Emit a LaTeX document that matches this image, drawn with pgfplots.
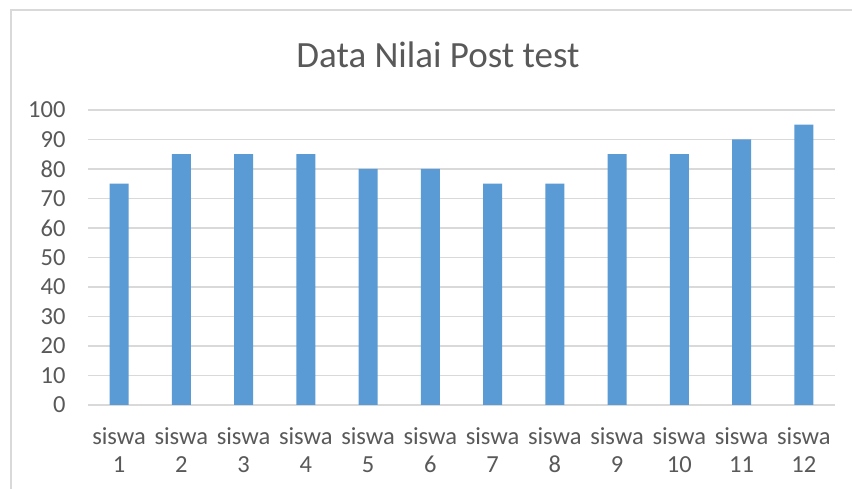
\documentclass[border=0pt]{standalone}
\usepackage{pgfplots}
\pgfplotsset{compat=1.18}
\usepackage{fontspec}
\setmainfont{Carlito}
\definecolor{barblue}{HTML}{5B9BD5}
\definecolor{txtgray}{HTML}{595959}
\definecolor{gridgray}{HTML}{D9D9D9}
\begin{document}
\begin{tikzpicture}
\useasboundingbox[fill=white] (0pt,0pt) rectangle (852pt,489pt);
\draw[gridgray, line width=1.5pt] (11pt,-10pt) -- (11pt,479pt) -- (870pt,479pt);
\node[txtgray, font=\fontsize{37}{42}\selectfont] at (438pt,434pt) {Data Nilai Post test};
\begin{axis}[
  at={(88pt,84pt)}, anchor=south west,
  scale only axis, width=747pt, height=295pt,
  xmin=0.5, xmax=12.5, ymin=0, ymax=100,
  ytick={0,10,...,100},
  xtick={1,...,12},
  xticklabels={{siswa\\1},{siswa\\2},{siswa\\3},{siswa\\4},{siswa\\5},{siswa\\6},{siswa\\7},{siswa\\8},{siswa\\9},{siswa\\10},{siswa\\11},{siswa\\12}},
  xticklabel style={align=center, font=\fontsize{24.5}{28}\selectfont, text=txtgray, yshift=-19pt},
  yticklabel style={font=\fontsize{24.5}{28}\selectfont, text=txtgray, xshift=-19pt},
  /pgf/number format/assume math mode=true,
  axis line style={draw=none},
  ymajorgrids, grid style={gridgray, line width=1.8pt},
  major tick length=0pt,
  tick style={draw=none},
  ybar, bar width=19pt,
  clip=false,
]
\addplot[fill=barblue, draw=none] table {
x y
1 75
2 85
3 85
4 85
5 80
6 80
7 75
8 75
9 85
10 85
11 90
12 95
};
\end{axis}
\end{tikzpicture}
\end{document}
